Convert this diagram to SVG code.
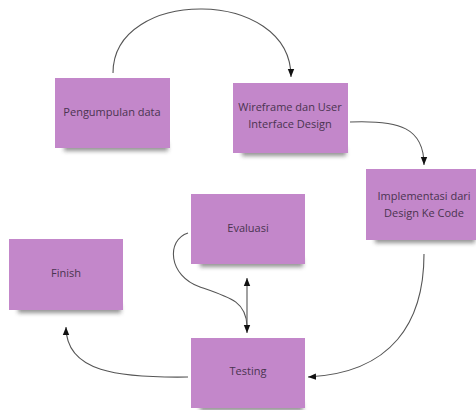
<svg xmlns="http://www.w3.org/2000/svg" width="476" height="410" viewBox="0 0 476 410">
<style>
.note{fill:#c387ca;}
.shadow{fill:#3a3a3a;opacity:0.55;filter:url(#blur);}
.label{font-family:"Open Sans","DejaVu Sans",sans-serif;font-size:11px;fill:#4a3450;text-anchor:middle;}
.conn{fill:none;stroke:#555;stroke-width:1.1;}
</style>
<defs>
<filter id="blur" x="-20%" y="-100%" width="140%" height="300%"><feGaussianBlur stdDeviation="2.2"/></filter>
<marker id="arr" viewBox="0 0 10 10" refX="10" refY="5" markerWidth="8" markerHeight="8" markerUnits="userSpaceOnUse" orient="auto-start-reverse">
<path d="M0,1 L10,5 L0,9 z" fill="#111"/>
</marker>
</defs>
<rect width="476" height="410" fill="#fff"/>
<g id="connectors">
<path class="conn" d="M113,73 C113,-13 291,-13 291,77" marker-end="url(#arr)"/>
<path class="conn" d="M350,122 C400,120 424,128 424,165" marker-end="url(#arr)"/>
<path class="conn" d="M424,254 C424,322 392,373 308,377" marker-end="url(#arr)"/>
<path class="conn" d="M188,377 C118,378 66,372 66,327" marker-end="url(#arr)"/>
<path class="conn" d="M188,233 C166,240 168,276 200,287 C232,298 246,302 247,326"/>
<path class="conn" d="M247,278 L247,333" marker-start="url(#arr)" marker-end="url(#arr)"/>
</g>
<g id="n-pengumpulan">
<rect class="shadow" x="64" y="143" width="104" height="8"/>
<rect class="note" x="55" y="78" width="115" height="70"/>
<text class="label" x="112" y="116">Pengumpulan data</text>
</g>
<g id="n-wireframe">
<rect class="shadow" x="242" y="148" width="104" height="8"/>
<rect class="note" x="233" y="83" width="115" height="70"/>
<text class="label" x="290" y="111">Wireframe dan User</text>
<text class="label" x="290" y="128">Interface Design</text>
</g>
<g id="n-implementasi">
<rect class="shadow" x="375" y="235" width="100" height="8"/>
<rect class="note" x="366" y="169" width="110" height="71"/>
<text class="label" x="424" y="200">Implementasi dari</text>
<text class="label" x="424" y="217">Design Ke Code</text>
</g>
<g id="n-evaluasi">
<rect class="shadow" x="200" y="259" width="103" height="8"/>
<rect class="note" x="191" y="194" width="114" height="70"/>
<text class="label" x="248" y="232">Evaluasi</text>
</g>
<g id="n-finish">
<rect class="shadow" x="18" y="305" width="103" height="8"/>
<rect class="note" x="9" y="239" width="114" height="71"/>
<text class="label" x="66" y="277">Finish</text>
</g>
<g id="n-testing">
<rect class="shadow" x="200" y="403" width="103" height="8"/>
<rect class="note" x="191" y="338" width="114" height="70"/>
<text class="label" x="248" y="375">Testing</text>
</g>
</svg>
